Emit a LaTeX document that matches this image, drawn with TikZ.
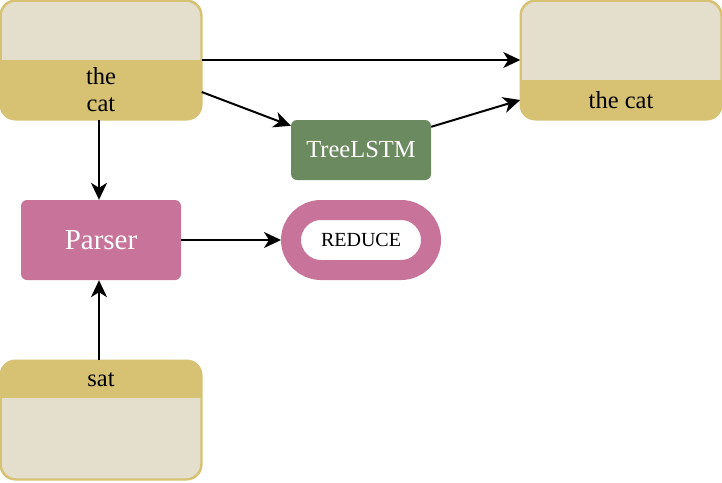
\documentclass[tikz,border=0pt]{standalone}
\usepackage{fontspec}
\setmainfont{Liberation Serif}
\usetikzlibrary{arrows.meta,calc}
\definecolor{lightc}{HTML}{E4DFCC}
\definecolor{goldc}{HTML}{D7C273}
\definecolor{pinkc}{HTML}{C8749A}
\definecolor{greenc}{HTML}{6B8A60}
\tikzset{
  membox/.style={draw=goldc, line width=1.5pt, rounded corners=15pt, minimum width=200pt, minimum height=118pt, inner sep=0pt, fill=lightc},
  arr/.style={-{Stealth[length=17pt,width=16pt,inset=5pt]}, line width=2pt, black},
  txt/.style={font=\fontsize{24.5}{27}\selectfont, align=center, inner sep=0pt},
}
\begin{document}
\begin{tikzpicture}[x=1pt,y=-1pt]
\useasboundingbox (0,0) rectangle (722,482);
% box A
\node[membox] (A) at (101,60) {};
\begin{scope}
\clip[rounded corners=15pt] (A.north west) rectangle (A.south east);
\fill[goldc] (0,60) rectangle (202,121);
\end{scope}
\draw[goldc, line width=1.5pt, rounded corners=15pt] (A.north west) rectangle (A.south east);
\node[txt] (Atext) at (101,90) {the\\cat};
% box B
\node[membox] (B) at (621,60) {};
\begin{scope}
\clip[rounded corners=15pt] (B.north west) rectangle (B.south east);
\fill[goldc] (519,80) rectangle (723,121);
\end{scope}
\draw[goldc, line width=1.5pt, rounded corners=15pt] (B.north west) rectangle (B.south east);
\node[txt] (Btext) at (621,100) {the cat};
% box C
\node[membox] (C) at (101,420) {};
\begin{scope}
\clip[rounded corners=15pt] (C.north west) rectangle (C.south east);
\fill[goldc] (0,359) rectangle (202,398);
\end{scope}
\draw[goldc, line width=1.5pt, rounded corners=15pt] (C.north west) rectangle (C.south east);
\node[txt] (Ctext) at (101,380) {sat};
% Parser
\node[fill=pinkc, rounded corners=6pt, minimum width=160pt, minimum height=80pt, text=white, font=\fontsize{29}{32}\selectfont] (P) at (101,240) {Parser};
% TreeLSTM
\node[fill=greenc, rounded corners=6pt, minimum width=140pt, minimum height=60pt, text=white, font=\fontsize{24.5}{28}\selectfont] (T) at (361,150) {TreeLSTM};
% REDUCE
\node[draw=pinkc, line width=20pt, fill=white, rounded corners=30pt, minimum width=140pt, minimum height=60pt, inner sep=0pt, font=\fontsize{20}{22}\selectfont] (R) at (361,240) {REDUCE};
% arrows
\draw[arr] (A.east) -- (A.east -| B.west);
\draw[arr] ($(A.east)+(0,32)$) -- ($(T.north west)+(0,6)$);
\draw[arr] ($(T.north east)+(0,7)$) -- ($(B.west)+(0,40)$);
\draw[arr] ($(A.south)+(-2,0)$) -- ($(P.north)+(-2,0)$);
\draw[arr] (P.east) -- (R.west);
\draw[arr] ($(C.north)+(-2,0)$) -- ($(P.south)+(-2,0)$);
\end{tikzpicture}
\end{document}
